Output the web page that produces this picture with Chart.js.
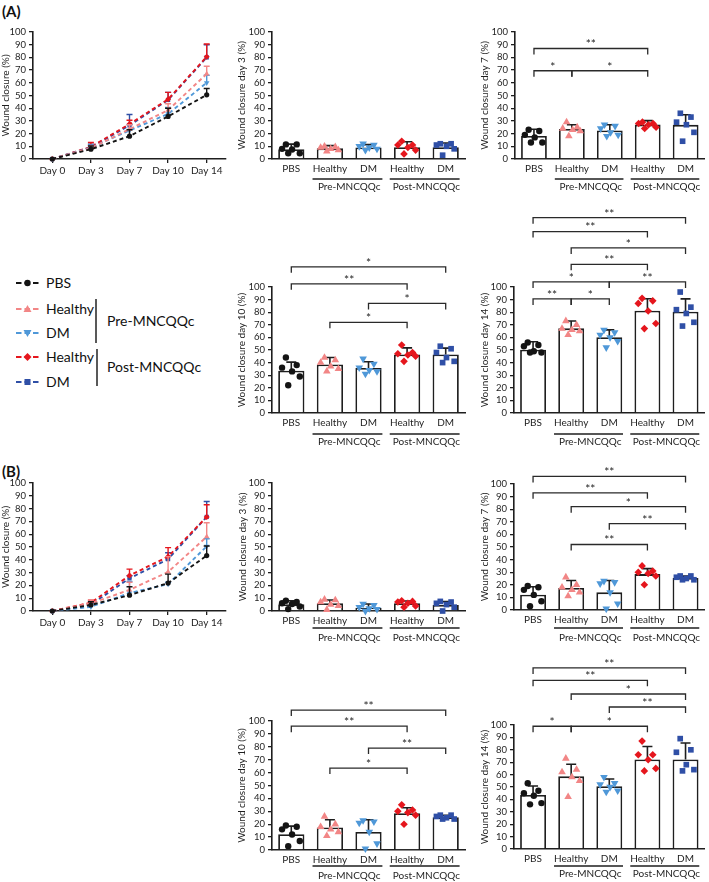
<!DOCTYPE html>
<html>
<head>
<meta charset="utf-8">
<title>Wound closure</title>
<script src="https://cdn.jsdelivr.net/npm/chart.js@4.4.1/dist/chart.umd.min.js"></script>
<style>
  html, body { margin:0; padding:0; background:#fff; }
  body { position:relative; width:709px; height:882px; overflow:hidden; font-family: Lato, "Open Sans", sans-serif; }
  .plabel { position:absolute; font-weight:700; font-size:15px; line-height:18px; color:#111; font-family: Lato, "Open Sans", sans-serif; }
  canvas { position:absolute; }
</style>
</head>
<body>
<div class="plabel" style="left:2px;top:2px">(A)</div>
<div class="plabel" style="left:2px;top:462px">(B)</div>
<svg id="legend" style="position:absolute;left:0;top:260px" width="230" height="140" viewBox="0 260 230 140"></svg>
<script>
// ---------------- data ----------------
const CATS = ['PBS', 'Healthy', 'DM', 'Healthy', 'DM'];
const GROUPS = [['Pre-MNCQQc', 1, 2], ['Post-MNCQQc', 3, 4]];
const DAYS = ['Day 0', 'Day 3', 'Day 7', 'Day 10', 'Day 14'];
const LEGEND_NAMES = ['PBS', 'Healthy', 'DM', 'Healthy', 'DM'];
const LEGEND_GROUPS = ['Pre-MNCQQc', 'Post-MNCQQc'];
const Y_MIN = 0, Y_MAX = 100, Y_STEP = 10;

// Panel A – time course (mean, SD) : PBS, Pre-Healthy, Pre-DM, Post-Healthy, Post-DM
const A_LINE_MEAN = [
  [0, 7.7, 18.0, 33.5, 50.5],
  [0, 8.5, 23.5, 38.5, 67.0],
  [0, 9.0, 22.5, 35.5, 60.0],
  [0, 9.5, 27.5, 47.0, 80.5],
  [0, 9.2, 26.5, 46.5, 80.0]
];
const A_LINE_SD = [
  [0, 2.5, 5.0, 6.5, 5.0],
  [0, 2.0, 3.5, 5.0, 6.0],
  [0, 2.0, 4.5, 5.0, 6.0],
  [0, 3.5, 3.0, 5.5, 10.0],
  [0, 2.5, 8.5, 6.0, 10.0]
];
// Panel B – time course
const B_LINE_MEAN = [
  [0, 4.7, 12.4, 21.8, 43.3],
  [0, 6.0, 16.5, 30.5, 58.0],
  [0, 3.3, 14.0, 21.0, 50.5],
  [0, 6.5, 27.7, 42.5, 73.5],
  [0, 5.0, 25.5, 40.5, 73.5]
];
const B_LINE_SD = [
  [0, 2.5, 6.5, 7.0, 7.5],
  [0, 2.5, 6.0, 12.0, 11.0],
  [0, 2.5, 9.0, 1.5, 6.0],
  [0, 2.0, 5.0, 7.0, 9.5],
  [0, 2.5, 2.0, 5.0, 12.0]
];

// Panel A bar charts
const A3_MEAN = [7.7, 8.4, 9.1, 9.3, 9.3];
const A3_SD = [4.0, 2.1, 2.2, 4.3, 3.3];
const A3_PTS = [[11.5, 11.5, 8, 7.5, 4.5, 4.5], [10, 9.5, 9, 8, 7, 6], [12, 11, 10, 9, 8, 7], [14, 11, 11, 9, 7, 4], [12, 12, 11, 10, 8, 3]];
const A3_SIG = [];

const A7_MEAN = [18.2, 23.6, 22.4, 27.1, 26.9];
const A7_SD = [5.2, 3.4, 4.6, 3.1, 8.0];
const A7_PTS = [[23, 22, 19, 17, 13, 13], [29, 25, 24, 23, 22, 18], [27, 26, 24, 21, 19, 18], [29, 28, 28, 27, 25, 24], [36, 33, 29, 27, 21, 14]];
const A7_SIG = [[0, 3, 87, '**'], [0, 1, 69.5, '*'], [1, 3, 69.5, '*']];

const A10_MEAN = [33.6, 38.5, 35.7, 46.5, 46.5];
const A10_SD = [6.8, 5.6, 5.0, 5.2, 5.0];
const A10_PTS = [[44, 38, 36, 33, 29, 22], [44, 42, 40, 37, 35, 33], [43, 39, 36, 34, 33, 31], [54, 48, 47, 46, 45, 41], [53, 51, 48, 44, 41, 40]];
const A10_SIG = [[0, 4, 116, '*'], [0, 3, 102.5, '**'], [2, 4, 87, '*'], [1, 3, 72, '*']];

const A14_MEAN = [50.2, 67.2, 60.2, 81.2, 80.3];
const A14_SD = [6.3, 5.8, 5.8, 9.5, 10.3];
const A14_PTS = [[56, 54, 53, 49, 48, 48], [73, 70, 67, 66, 65, 62], [66, 64, 62, 60, 57, 52], [91, 89, 87, 81, 71, 67], [96, 84, 82, 79, 72, 69]];
const A14_SIG = [[0, 4, 155, '**'], [0, 3, 144, '**'], [1, 4, 131, '*'], [1, 3, 118, '**'], [0, 2, 104, '*'], [2, 4, 104, '**'], [0, 1, 90.5, '**'], [1, 2, 90.5, '*']];

// Panel B bar charts
const B3_MEAN = [5.2, 6.0, 2.6, 6.0, 4.7];
const B3_SD = [2.8, 2.6, 2.9, 1.8, 2.6];
const B3_PTS = [[8, 7, 6, 5.5, 3.5, 1.5], [9, 8.5, 7, 5, 4, 1], [5.5, 4.5, 3, 2, 1.5, 0], [8, 7.5, 7, 6, 4, 3], [7.5, 7, 6, 5, 3, 0]];
const B3_SIG = [];

const B7_MEAN = [12.2, 17.5, 14.0, 28.5, 25.4];
const B7_SD = [6.3, 5.9, 9.4, 4.3, 1.5];
const B7_PTS = [[19, 18, 16, 12, 7, 3], [26, 20, 18, 16, 14, 11], [23, 22, 21, 14, 5, 1], [35, 31, 30, 29, 27, 20], [27, 27, 26, 25, 24, 24]];
const B7_SIG = [[0, 4, 106, '**'], [0, 3, 93, '**'], [1, 4, 82, '*'], [2, 4, 68.5, '**'], [1, 3, 52, '**']];

const B10_MEAN = [12.2, 17.5, 14.0, 28.5, 25.4];
const B10_SD = [6.3, 5.9, 9.4, 4.3, 1.5];
const B10_PTS = [[19, 18, 16, 12, 7, 3], [26, 20, 18, 16, 14, 11], [23, 22, 21, 14, 5, 1], [35, 31, 30, 29, 27, 20], [27, 27, 26, 25, 24, 24]];
const B10_SIG = [[0, 4, 108.5, '**'], [0, 3, 96, '**'], [2, 4, 79, '**'], [1, 3, 63.5, '*']];

const B14_MEAN = [43.5, 58.6, 50.7, 72.2, 72.2];
const B14_SD = [7.3, 9.7, 5.8, 10.5, 13.3];
const B14_PTS = [[53, 47, 45, 43, 37, 36], [73, 64, 62, 58, 55, 42], [58, 53, 52, 50, 47, 46], [87, 76, 76, 72, 65, 63], [89, 80, 78, 68, 64, 63]];
const B14_SIG = [[0, 4, 146, '**'], [0, 3, 136, '**'], [1, 4, 125, '*'], [2, 4, 114.5, '**'], [0, 1, 99, '*'], [1, 3, 99, '*']];

// ---------------- style / layout ----------------
const FONT = 'Lato, "Open Sans", sans-serif';
const INK = '#1e1e1e';
const TXT = '#1e1e1e';
const COLORS = ['#141414', '#f28686', '#4f98d8', '#e5161d', '#2f4fa6'];
const STYLES = ['circle', 'triangle', 'triangle', 'rectRot', 'rect'];
const ROT = [0, 0, 180, 0, 0];
const RAD_BAR = [3.2, 4.4, 4.4, 3.8, 4.0];
const RAD_LINE = [2.6, 3.2, 3.2, 3.0, 3.0];
const JIT = [-0.14, 0.14, -0.24, 0.02, 0.22, -0.08];

const LAY = {
  LA:  { box: [0, 16, 230, 172],   area: [33, 32, 226, 159],  tx: 6 },
  A3:  { box: [230, 16, 240, 182], area: [272, 32, 465, 159], tx: 242, grp: [20, 28] },
  A7:  { box: [470, 16, 239, 182], area: [515, 32, 708, 159], tx: 485, grp: [20, 28] },
  A10: { box: [230, 248, 240, 202], area: [272, 287, 465, 413], tx: 242, grp: [21, 29] },
  A14: { box: [470, 200, 239, 250], area: [514, 287, 708, 413], tx: 485, grp: [21, 29] },
  LB:  { box: [0, 466, 230, 172],  area: [33, 483, 226, 611], tx: 6 },
  B3:  { box: [230, 466, 240, 182], area: [272, 483, 465, 611], tx: 243, grp: [17, 27] },
  B7:  { box: [470, 456, 239, 192], area: [514, 484, 706, 610], tx: 485, grp: [18, 28] },
  B10: { box: [230, 688, 240, 194], area: [272, 721, 465, 850], tx: 242, grp: [16, 26] },
  B14: { box: [470, 652, 239, 230], area: [514, 725, 708, 849], tx: 485, grp: [17, 25] }
};

function geom(L) {
  const [bx, by, bw, bh] = L.box, [l, t, r, b] = L.area;
  return { yw: l - bx, xh: by + bh - b, pad: { left: 0, top: t - by, right: bx + bw - r, bottom: 0 }, tp: Math.max(0, L.tx - bx - 6) };
}
function place(L) {
  const [x, y, w, h] = L.box;
  const c = document.createElement('canvas');
  c.width = w; c.height = h;
  c.style.left = x + 'px'; c.style.top = y + 'px';
  c.style.width = w + 'px'; c.style.height = h + 'px';
  document.body.appendChild(c);
  return c;
}
function yAxis(g, title) {
  return {
    type: 'linear', min: Y_MIN, max: Y_MAX,
    afterFit: s => { s.width = g.yw; },
    ticks: { stepSize: Y_STEP, autoSkip: false, color: TXT, padding: 3, font: { family: FONT, size: 9.5 } },
    grid: { display: true, drawOnChartArea: false, drawTicks: true, tickLength: 4, color: INK, lineWidth: 1.3 },
    border: { display: true, color: INK, width: 1.6 },
    title: { display: true, text: title, color: TXT, font: { family: FONT, size: 10 }, padding: { top: g.tp, bottom: 0 } }
  };
}
const BASE = { responsive: false, animation: false, devicePixelRatio: 1, events: [] };

function barDecor(mean, sd, sig, grp) {
  return {
    id: 'barDecor',
    afterDatasetDraw(chart, args) {
      if (args.index !== 0) return;
      const ctx = chart.ctx, meta = chart.getDatasetMeta(0), ys = chart.scales.y;
      ctx.save();
      ctx.strokeStyle = INK; ctx.lineWidth = 1.6;
      mean.forEach((m, i) => {
        const x = meta.data[i].x, y0 = ys.getPixelForValue(m), y1 = ys.getPixelForValue(m + sd[i]);
        ctx.beginPath();
        ctx.moveTo(x, y0); ctx.lineTo(x, y1);
        ctx.moveTo(x - 5, y1); ctx.lineTo(x + 5, y1);
        ctx.stroke();
      });
      ctx.restore();
    },
    afterDraw(chart) {
      const ctx = chart.ctx, xs = chart.scales.x, ys = chart.scales.y, ca = chart.chartArea;
      const band = xs.getPixelForValue(1) - xs.getPixelForValue(0);
      ctx.save();
      ctx.strokeStyle = INK; ctx.lineWidth = 1.3; ctx.fillStyle = TXT;
      ctx.font = '10px ' + FONT; ctx.textAlign = 'center'; ctx.textBaseline = 'middle';
      GROUPS.forEach(([name, a, b]) => {
        const xa = xs.getPixelForValue(a), xb = xs.getPixelForValue(b);
        const yl = ca.bottom + grp[0];
        ctx.beginPath(); ctx.moveTo(xa - 0.45 * band, yl); ctx.lineTo(xb + 0.36 * band, yl); ctx.stroke();
        ctx.fillText(name, (xa + xb) / 2, ca.bottom + grp[1]);
      });
      ctx.strokeStyle = '#2a2a2a'; ctx.lineWidth = 1.3;
      ctx.font = '12px ' + FONT;
      sig.forEach(([a, b, v, t]) => {
        const xa = xs.getPixelForValue(a), xb = xs.getPixelForValue(b), y = ys.getPixelForValue(v);
        ctx.beginPath();
        ctx.moveTo(xa, y + 6); ctx.lineTo(xa, y); ctx.lineTo(xb, y); ctx.lineTo(xb, y + 6);
        ctx.stroke();
        ctx.fillText(t, (xa + xb) / 2, y - 4);
      });
      ctx.restore();
    }
  };
}

function barChart(L, title, mean, sd, pts, sig) {
  const g = geom(L);
  const datasets = [{
    type: 'bar', xAxisID: 'x', yAxisID: 'y', order: 10,
    data: mean.map((m, i) => ({ x: i, y: m })),
    backgroundColor: '#ffffff', borderColor: INK, borderWidth: 1.8,
    barPercentage: 0.68, categoryPercentage: 1
  }];
  pts.forEach((arr, gi) => datasets.push({
    type: 'scatter', xAxisID: 'x', yAxisID: 'y', order: 0, clip: false,
    data: arr.map((v, k) => ({ x: gi + JIT[k], y: v })),
    pointStyle: STYLES[gi], pointRotation: ROT[gi], pointRadius: RAD_BAR[gi],
    pointBackgroundColor: COLORS[gi], pointBorderColor: COLORS[gi], pointBorderWidth: 0,
    backgroundColor: COLORS[gi], borderColor: COLORS[gi]
  }));
  return new Chart(place(L), {
    type: 'bar',
    data: { datasets },
    options: Object.assign({}, BASE, {
      layout: { padding: g.pad },
      plugins: { legend: { display: false }, tooltip: { enabled: false } },
      scales: {
        x: {
          type: 'linear', min: -0.5, max: 4.5, offset: false,
          afterFit: s => { s.height = g.xh; },
          afterBuildTicks: s => { s.ticks = CATS.map((_, i) => ({ value: i })); },
          ticks: { autoSkip: false, maxRotation: 0, minRotation: 0, padding: 4, color: TXT, font: { family: FONT, size: 10 },
                   callback: v => CATS[v] },
          grid: { display: false, drawTicks: false, tickLength: 0 },
          border: { display: true, color: INK, width: 1.6 }
        },
        y: yAxis(g, title)
      }
    }),
    plugins: [barDecor(mean, sd, sig, L.grp)]
  });
}

function lineErr(sds) {
  return {
    id: 'lineErr',
    afterDatasetDraw(chart, args) {
      const i = args.index, meta = chart.getDatasetMeta(i), ys = chart.scales.y, ctx = chart.ctx;
      const data = chart.data.datasets[i].data;
      ctx.save();
      ctx.strokeStyle = COLORS[i]; ctx.lineWidth = 1.4;
      data.forEach((m, k) => {
        if (!sds[i][k]) return;
        const x = meta.data[k].x, y0 = ys.getPixelForValue(m), y1 = ys.getPixelForValue(m + sds[i][k]);
        ctx.beginPath();
        ctx.moveTo(x, y0); ctx.lineTo(x, y1);
        ctx.moveTo(x - 3, y1); ctx.lineTo(x + 3, y1);
        ctx.stroke();
      });
      ctx.restore();
    }
  };
}

function lineChart(L, title, means, sds) {
  const g = geom(L);
  const datasets = means.map((m, i) => ({
    data: m, borderColor: COLORS[i], backgroundColor: COLORS[i], borderWidth: 1.9, borderDash: [4, 3],
    pointStyle: STYLES[i], pointRotation: ROT[i], pointRadius: RAD_LINE[i],
    pointBackgroundColor: COLORS[i], pointBorderColor: COLORS[i], pointBorderWidth: 0,
    tension: 0, clip: false
  }));
  return new Chart(place(L), {
    type: 'line',
    data: { labels: DAYS, datasets },
    options: Object.assign({}, BASE, {
      layout: { padding: g.pad },
      plugins: { legend: { display: false }, tooltip: { enabled: false } },
      scales: {
        x: {
          type: 'category', offset: true,
          afterFit: s => { s.height = g.xh; },
          ticks: { autoSkip: false, maxRotation: 0, minRotation: 0, padding: 2, color: TXT, font: { family: FONT, size: 10 } },
          grid: { display: true, offset: false, drawOnChartArea: false, drawTicks: true, tickLength: 4, color: INK, lineWidth: 1.3 },
          border: { display: true, color: INK, width: 1.6 }
        },
        y: yAxis(g, title)
      }
    }),
    plugins: [lineErr(sds)]
  });
}

// ---------------- legend (SVG, real text) ----------------
(function legend() {
  const svg = document.getElementById('legend'), NS = 'http://www.w3.org/2000/svg';
  const rowsY = [283, 309, 333, 357, 382];
  const add = (tag, attrs, text) => {
    const e = document.createElementNS(NS, tag);
    for (const k in attrs) e.setAttribute(k, attrs[k]);
    if (text) e.textContent = text;
    svg.appendChild(e); return e;
  };
  const cx = 27.5;
  LEGEND_NAMES.forEach((name, i) => {
    const y = rowsY[i], c = COLORS[i];
    add('line', { x1: 16, x2: 39, y1: y, y2: y, stroke: c, 'stroke-width': 2, 'stroke-dasharray': '5.5 3' });
    if (STYLES[i] === 'circle') add('circle', { cx, cy: y, r: 3.2, fill: c });
    else if (STYLES[i] === 'triangle' && ROT[i] === 0) add('polygon', { points: `${cx},${y - 4} ${cx + 4},${y + 3} ${cx - 4},${y + 3}`, fill: c });
    else if (STYLES[i] === 'triangle') add('polygon', { points: `${cx},${y + 4} ${cx + 4},${y - 3} ${cx - 4},${y - 3}`, fill: c });
    else if (STYLES[i] === 'rectRot') add('polygon', { points: `${cx},${y - 4} ${cx + 4},${y} ${cx},${y + 4} ${cx - 4},${y}`, fill: c });
    else add('rect', { x: cx - 3, y: y - 3, width: 6, height: 6, fill: c });
    add('text', { x: 46, y: y + 5, 'font-family': 'Lato, Open Sans, sans-serif', 'font-size': 14, fill: '#111' }, name);
  });
  add('line', { x1: 96, x2: 96, y1: 299, y2: 343, stroke: '#222', 'stroke-width': 1.5 });
  add('line', { x1: 97, x2: 97, y1: 349, y2: 386, stroke: '#222', 'stroke-width': 1.5 });
  add('text', { x: 107, y: 326, 'font-family': 'Lato, Open Sans, sans-serif', 'font-size': 14, fill: '#111' }, LEGEND_GROUPS[0]);
  add('text', { x: 107, y: 372, 'font-family': 'Lato, Open Sans, sans-serif', 'font-size': 14, fill: '#111' }, LEGEND_GROUPS[1]);
})();

// ---------------- charts ----------------
lineChart(LAY.LA, 'Wound closure (%)', A_LINE_MEAN, A_LINE_SD);
barChart(LAY.A3, 'Wound closure day 3 (%)', A3_MEAN, A3_SD, A3_PTS, A3_SIG);
barChart(LAY.A7, 'Wound closure day 7 (%)', A7_MEAN, A7_SD, A7_PTS, A7_SIG);
barChart(LAY.A10, 'Wound closure day 10 (%)', A10_MEAN, A10_SD, A10_PTS, A10_SIG);
barChart(LAY.A14, 'Wound closure day 14 (%)', A14_MEAN, A14_SD, A14_PTS, A14_SIG);
lineChart(LAY.LB, 'Wound closure (%)', B_LINE_MEAN, B_LINE_SD);
barChart(LAY.B3, 'Wound closure day 3 (%)', B3_MEAN, B3_SD, B3_PTS, B3_SIG);
barChart(LAY.B7, 'Wound closure day 7 (%)', B7_MEAN, B7_SD, B7_PTS, B7_SIG);
barChart(LAY.B10, 'Wound closure day 10 (%)', B10_MEAN, B10_SD, B10_PTS, B10_SIG);
barChart(LAY.B14, 'Wound closure day 14 (%)', B14_MEAN, B14_SD, B14_PTS, B14_SIG);
</script>
</body>
</html>
